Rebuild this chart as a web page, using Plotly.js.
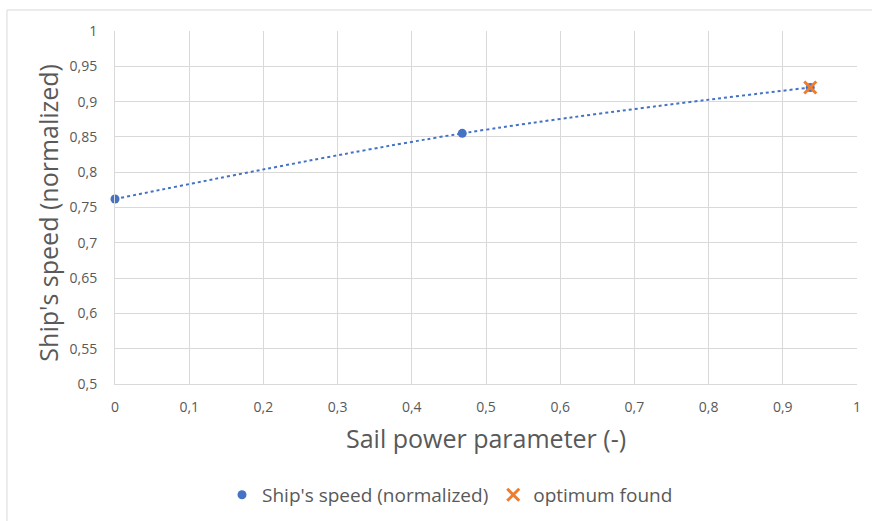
<!DOCTYPE html>
<html>
<head>
<meta charset="utf-8">
<script src="https://cdn.plot.ly/plotly-3.0.1.min.js"></script>
<style>html,body{margin:0;padding:0;background:#fff;}#chart{width:872px;height:521px;}</style>
</head>
<body>
<div id="chart"></div>
<script>
var sailPower = [0, 0.468, 0.937];
var shipSpeed = [0.762, 0.855, 0.920];
var optimumX = [0.937];
var optimumY = [0.920];
var xTickVals = [0, 0.1, 0.2, 0.3, 0.4, 0.5, 0.6, 0.7, 0.8, 0.9, 1];
var xTickText = ["0", "0,1", "0,2", "0,3", "0,4", "0,5", "0,6", "0,7", "0,8", "0,9", "1"];
var yTickVals = [0.5, 0.55, 0.6, 0.65, 0.7, 0.75, 0.8, 0.85, 0.9, 0.95, 1];
var yTickText = ["0,5", "0,55", "0,6", "0,65", "0,7", "0,75", "0,8", "0,85", "0,9", "0,95", "1"];

var FONT = "'Open Sans', Lato, sans-serif";
var GRAY = "#595959";

var traces = [
  {
    x: sailPower, y: shipSpeed, type: "scatter", mode: "lines",
    line: {color: "#4472C4", width: 2, dash: "dot", shape: "spline"},
    showlegend: false, hoverinfo: "skip", cliponaxis: false
  },
  {
    x: sailPower, y: shipSpeed, type: "scatter", mode: "markers",
    name: "Ship's speed (normalized)", cliponaxis: false,
    marker: {color: "#4472C4", size: 9, symbol: "circle"}
  },
  {
    x: optimumX, y: optimumY, type: "scatter", mode: "markers",
    name: "optimum found", cliponaxis: false,
    marker: {color: "#ED7D31", size: 12, symbol: "x-thin", line: {color: "#ED7D31", width: 3}}
  }
];

var layout = {
  width: 872, height: 521,
  margin: {l: 115, r: 15, t: 31, b: 137},
  paper_bgcolor: "#fff", plot_bgcolor: "#fff",
  font: {family: FONT, color: GRAY, size: 14},
  xaxis: {
    range: [0, 1], tickvals: xTickVals, ticktext: xTickText,
    showgrid: true, gridcolor: "#d9d9d9", gridwidth: 1,
    zeroline: false, showline: true, linecolor: "#d9d9d9", linewidth: 1,
    ticks: "", ticklabelstandoff: 10, tickfont: {size: 14, color: GRAY, family: FONT}
  },
  yaxis: {
    range: [0.5, 1], tickvals: yTickVals, ticktext: yTickText,
    showgrid: true, gridcolor: "#d9d9d9", gridwidth: 1,
    zeroline: false, showline: true, linecolor: "#d9d9d9", linewidth: 1,
    ticks: "", ticklabelstandoff: 14, tickfont: {size: 14, color: GRAY, family: FONT}
  },
  showlegend: true,
  legend: {
    orientation: "h", x: 0.4515, xanchor: "center",
    yref: "container", y: 0.05, yanchor: "middle",
    font: {size: 19, color: GRAY, family: FONT}, itemwidth: 30, tracegroupgap: 0
  },
  annotations: [
    {text: "Ship's speed (normalized)", xref: "paper", yref: "paper", x: -0.09, y: 0.486,
     textangle: -90, showarrow: false, xanchor: "center", yanchor: "middle",
     font: {size: 25, color: GRAY, family: FONT}},
    {text: "Sail power parameter (-)", xref: "paper", yref: "paper", x: 0.5, y: -0.153,
     showarrow: false, xanchor: "center", yanchor: "middle",
     font: {size: 25, color: GRAY, family: FONT}}
  ],
  shapes: [
    {type: "rect", xref: "paper", yref: "paper", x0: -0.1456, x1: 1.03, y0: -0.41, y1: 1.0595,
     line: {color: "#d9d9d9", width: 1}, fillcolor: "rgba(0,0,0,0)", layer: "below"}
  ]
};

Plotly.newPlot("chart", traces, layout, {displayModeBar: false, staticPlot: true});
</script>
</body>
</html>
